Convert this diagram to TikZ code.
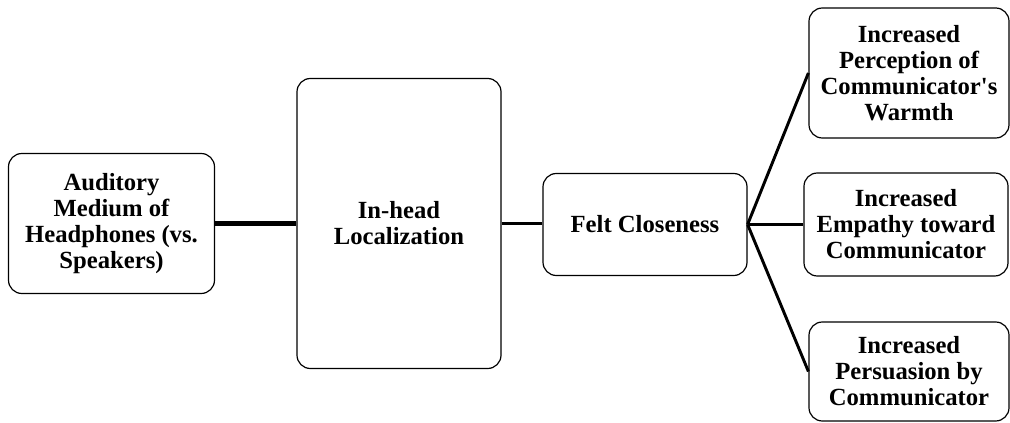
\documentclass[tikz,border=0pt]{standalone}
\usepackage{fontspec}
\setmainfont{Liberation Serif}
\usepackage{tikz}

\tikzset{
  stagebox/.style={draw, line width=0.9pt, rounded corners=10pt, fill=white,
    align=center, inner sep=0.75pt, font=\bfseries\fontsize{18.5}{19.5}\selectfont},
  linkline/.style={line width=2.2pt}
}

\begin{document}
\begin{tikzpicture}[x=0.75pt,y=0.75pt,yscale=-1,xscale=1]
%set diagram left start at 0, and has height of 423
\useasboundingbox (0,0) rectangle (1010,423);

%Shape: Rounded Rect [id:medium]
\node (medium) [stagebox, minimum width=154.5pt, minimum height=105pt] at (111.5,223.5)
  {Auditory\\Medium of\\Headphones (vs.\\Speakers)};
%Shape: Rounded Rect [id:inhead]
\node (inhead) [stagebox, minimum width=153pt, minimum height=217.5pt] at (399,223.5)
  {In-head\\Localization};
%Shape: Rounded Rect [id:closeness]
\node (closeness) [stagebox, minimum width=153pt, minimum height=76.5pt] at (645,224.5)
  {Felt Closeness};
%Shape: Rounded Rect [id:warmth]
\node (warmth) [stagebox, minimum width=150pt, minimum height=97.5pt] at (909,73)
  {Increased\\Perception of\\Communicator\textquotesingle s\\Warmth};
%Shape: Rounded Rect [id:empathy]
\node (empathy) [stagebox, minimum width=153pt, minimum height=77.25pt] at (906,224.5)
  {Increased\\Empathy toward\\Communicator};
%Shape: Rounded Rect [id:persuasion]
\node (persuasion) [stagebox, minimum width=150pt, minimum height=74.25pt] at (909,371.5)
  {Increased\\Persuasion by\\Communicator};

% Straight Lines
\draw [line width=3.75pt] (medium.east) -- (inhead.west);
\draw [line width=1.9pt] (inhead.east) -- (inhead.east -| closeness.west);
\draw [linkline] (closeness.east) -- (warmth.west);
\draw [linkline] (closeness.east) -- (empathy.west);
\draw [linkline] (closeness.east) -- (persuasion.west);

\end{tikzpicture}
\end{document}
